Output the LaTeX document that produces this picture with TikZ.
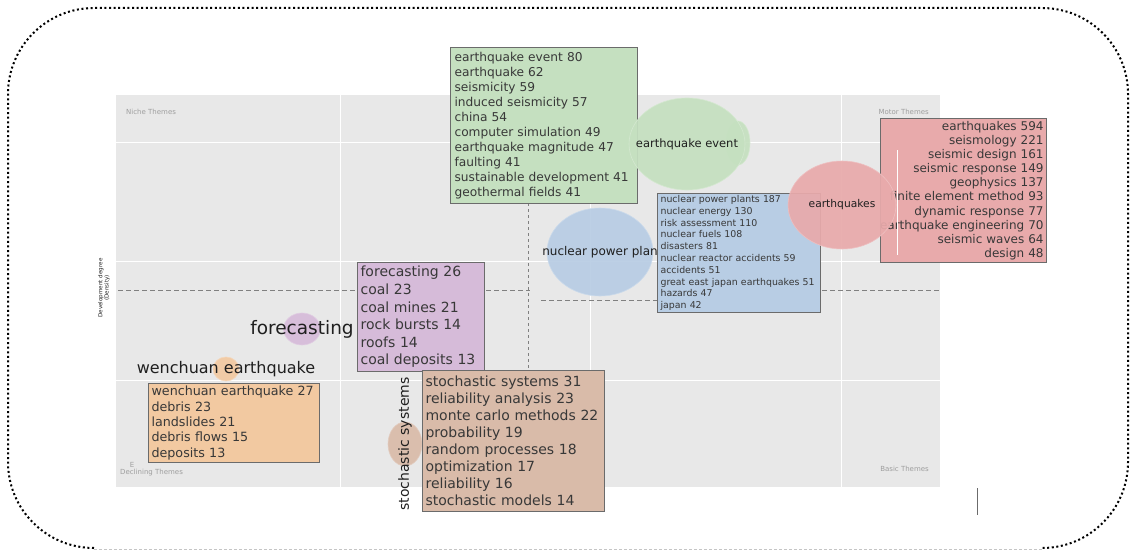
\documentclass[tikz,border=0pt]{standalone}
\usepackage{fontspec}
\setmainfont{DejaVu Sans}
\usetikzlibrary{positioning, shapes.geometric, backgrounds}
\definecolor{plotgray}{rgb}{0.910,0.910,0.910}
\definecolor{inkgray}{rgb}{0.220,0.220,0.220}
\definecolor{labelink}{rgb}{0.120,0.120,0.120}
\definecolor{faintink}{rgb}{0.620,0.620,0.620}
\definecolor{dashgray}{rgb}{0.500,0.500,0.500}
\definecolor{boxedge}{rgb}{0.420,0.420,0.420}
\definecolor{sage}{rgb}{0.773,0.878,0.753}
\definecolor{sky}{rgb}{0.722,0.804,0.894}
\definecolor{rose}{rgb}{0.910,0.667,0.671}
\definecolor{lilac}{rgb}{0.839,0.733,0.851}
\definecolor{apricot}{rgb}{0.949,0.788,0.631}
\definecolor{clay}{rgb}{0.851,0.733,0.663}

\begin{document}
\begin{tikzpicture}[
  x=1pt, y=-1pt,
  every node/.style={
    inner sep=0pt,
    text=inkgray
  },
  quadrant/.style={font=\fontsize{7}{8}\selectfont, text=faintink},
  termbox/.style={
    draw=boxedge,
    line width=1.1pt,
    fill=#1,
    anchor=north west,
    inner xsep=4pt,
    align=left
  },
  bubble/.style={
    ellipse,
    draw=#1!75!white,
    line width=0.6pt,
    fill=#1,
    fill opacity=0.93,
    text opacity=1
  },
  bubbletext/.style={text=labelink, inner sep=0pt},
  guide/.style={draw=dashgray, line width=0.9pt, dash pattern=on 4.5pt off 3.5pt},
  grid line/.style={draw=white, line width=0.8pt},
]

\useasboundingbox (0,0) rectangle (1132,551);

\draw[line width=2pt, dash pattern=on 2pt off 2.6pt, rounded corners=86pt]
  (94,548) -| (8,8) -| (1128,548) -- (1042,548);
\draw[faintink!60, line width=0.5pt, dash pattern=on 3pt off 2pt] (94,549) -- (1042,549);

\fill[plotgray] (116,95) rectangle (940,487);
\foreach \gx in {340,590,841}
  \draw[grid line] (\gx,95) -- (\gx,487);
\foreach \gy in {142,261,380}
  \draw[grid line] (116,\gy) -- (940,\gy);

\node[quadrant, anchor=west] (niche) at (126,112) {Niche Themes};
\node[quadrant, anchor=east] (motor) at (929,112) {Motor Themes};
\node[quadrant, anchor=west] (declining) at (120,473) {Declining Themes};
\node[quadrant] (declmark) at (132,465) {E};
\node[quadrant, anchor=east] (basic) at (929,469) {Basic Themes};
\node[rotate=90, align=center, text=labelink, font=\fontsize{5.6}{6.4}\selectfont] (density) at (104,288)
  {Development degree\\(Density)};

\draw[guide] (118,290) -- (530,290);
\draw[guide] (822,290) -- (940,290);
\draw[guide] (541,300) -- (657,300);
\draw[guide, dash pattern=on 3pt off 3pt] (528,203) -- (528,375);

\draw[boxedge, line width=0.8pt] (977,488) -- (977,515);

\node[termbox=sage, minimum width=187pt, minimum height=156pt, text width=179pt,
  font=\fontsize{12.2}{15}\selectfont] (eventbox) at (450,47) {
  earthquake event 80\\
  earthquake 62\\
  seismicity 59\\
  induced seismicity 57\\
  china 54\\
  computer simulation 49\\
  earthquake magnitude 47\\
  faulting 41\\
  sustainable development 41\\
  geothermal fields 41};

\node[termbox=rose, align=right, minimum width=166pt, minimum height=144pt, text width=160pt, inner xsep=3pt,
  font=\fontsize{12}{14.1}\selectfont] (quakesbox) at (880,118) {
  earthquakes 594\\
  seismology 221\\
  seismic design 161\\
  seismic response 149\\
  geophysics 137\\
  finite element method 93\\
  dynamic response 77\\
  \makebox[0pt][r]{earthquake engineering 70}\\
  seismic waves 64\\
  design 48};
\draw[white, line width=0.8pt] (897,150) -- (897,255);

\node[bubble=sage, minimum width=24pt, minimum height=44pt] (eventtail) at (738,143) {};
\node[bubble=sage, minimum width=116pt, minimum height=92pt,
  label={[bubbletext, font=\fontsize{11.5}{13}\selectfont]center:earthquake event}] (eventbub) at (687,144) {};
\node[bubble=sky, minimum width=106pt, minimum height=88pt,
  label={[bubbletext, font=\fontsize{12}{13}\selectfont]center:nuclear power plan}] (nuclearbub) at (600,252) {};
\node[bubble=lilac, minimum width=37pt, minimum height=32pt,
  label={[bubbletext, font=\fontsize{18.5}{20}\selectfont]center:forecasting}] (forecastbub) at (302,329) {};
\node[bubble=apricot, minimum width=26pt, minimum height=24pt,
  label={[bubbletext, font=\fontsize{16}{18}\selectfont]center:wenchuan earthquake}] (wenchuanbub) at (226,369) {};
\node[bubble=clay, minimum width=34pt, minimum height=44pt,
  label={[bubbletext, rotate=90, font=\fontsize{14}{16}\selectfont]center:stochastic systems}] (stochbub) at (405,444) {};

\node[termbox=sky, minimum width=163pt, minimum height=119pt, text width=157pt, inner xsep=3pt,
  font=\fontsize{9.4}{11.8}\selectfont] (nuclearbox) at (657,193) {
  nuclear power plants 187\\
  nuclear energy 130\\
  risk assessment 110\\
  nuclear fuels 108\\
  disasters 81\\
  nuclear reactor accidents 59\\
  accidents 51\\
  great east japan earthquakes 51\\
  hazards 47\\
  japan 42};

\node[bubble=rose, minimum width=108pt, minimum height=88pt,
  label={[bubbletext, font=\fontsize{10.7}{12}\selectfont]center:earthquakes}] (quakesbub) at (842,205) {};

\node[termbox=lilac, minimum width=127pt, minimum height=109pt, text width=121pt, inner xsep=3pt,
  font=\fontsize{14}{17.6}\selectfont] (forecastbox) at (357,262) {
  forecasting 26\\
  coal 23\\
  coal mines 21\\
  rock bursts 14\\
  roofs 14\\
  coal deposits 13};

\node[termbox=apricot, minimum width=171pt, minimum height=79pt, text width=165pt, inner xsep=3pt,
  font=\fontsize{12.7}{15.3}\selectfont] (wenchuanbox) at (148,383) {
  wenchuan earthquake 27\\
  debris 23\\
  landslides 21\\
  debris flows 15\\
  deposits 13};

\node[termbox=clay, minimum width=182pt, minimum height=141pt, text width=176pt, inner xsep=3pt,
  font=\fontsize{14}{17}\selectfont] (stochbox) at (422,370) {
  stochastic systems 31\\
  reliability analysis 23\\
  monte carlo methods 22\\
  probability 19\\
  random processes 18\\
  optimization 17\\
  reliability 16\\
  stochastic models 14};

\end{tikzpicture}
\end{document}
